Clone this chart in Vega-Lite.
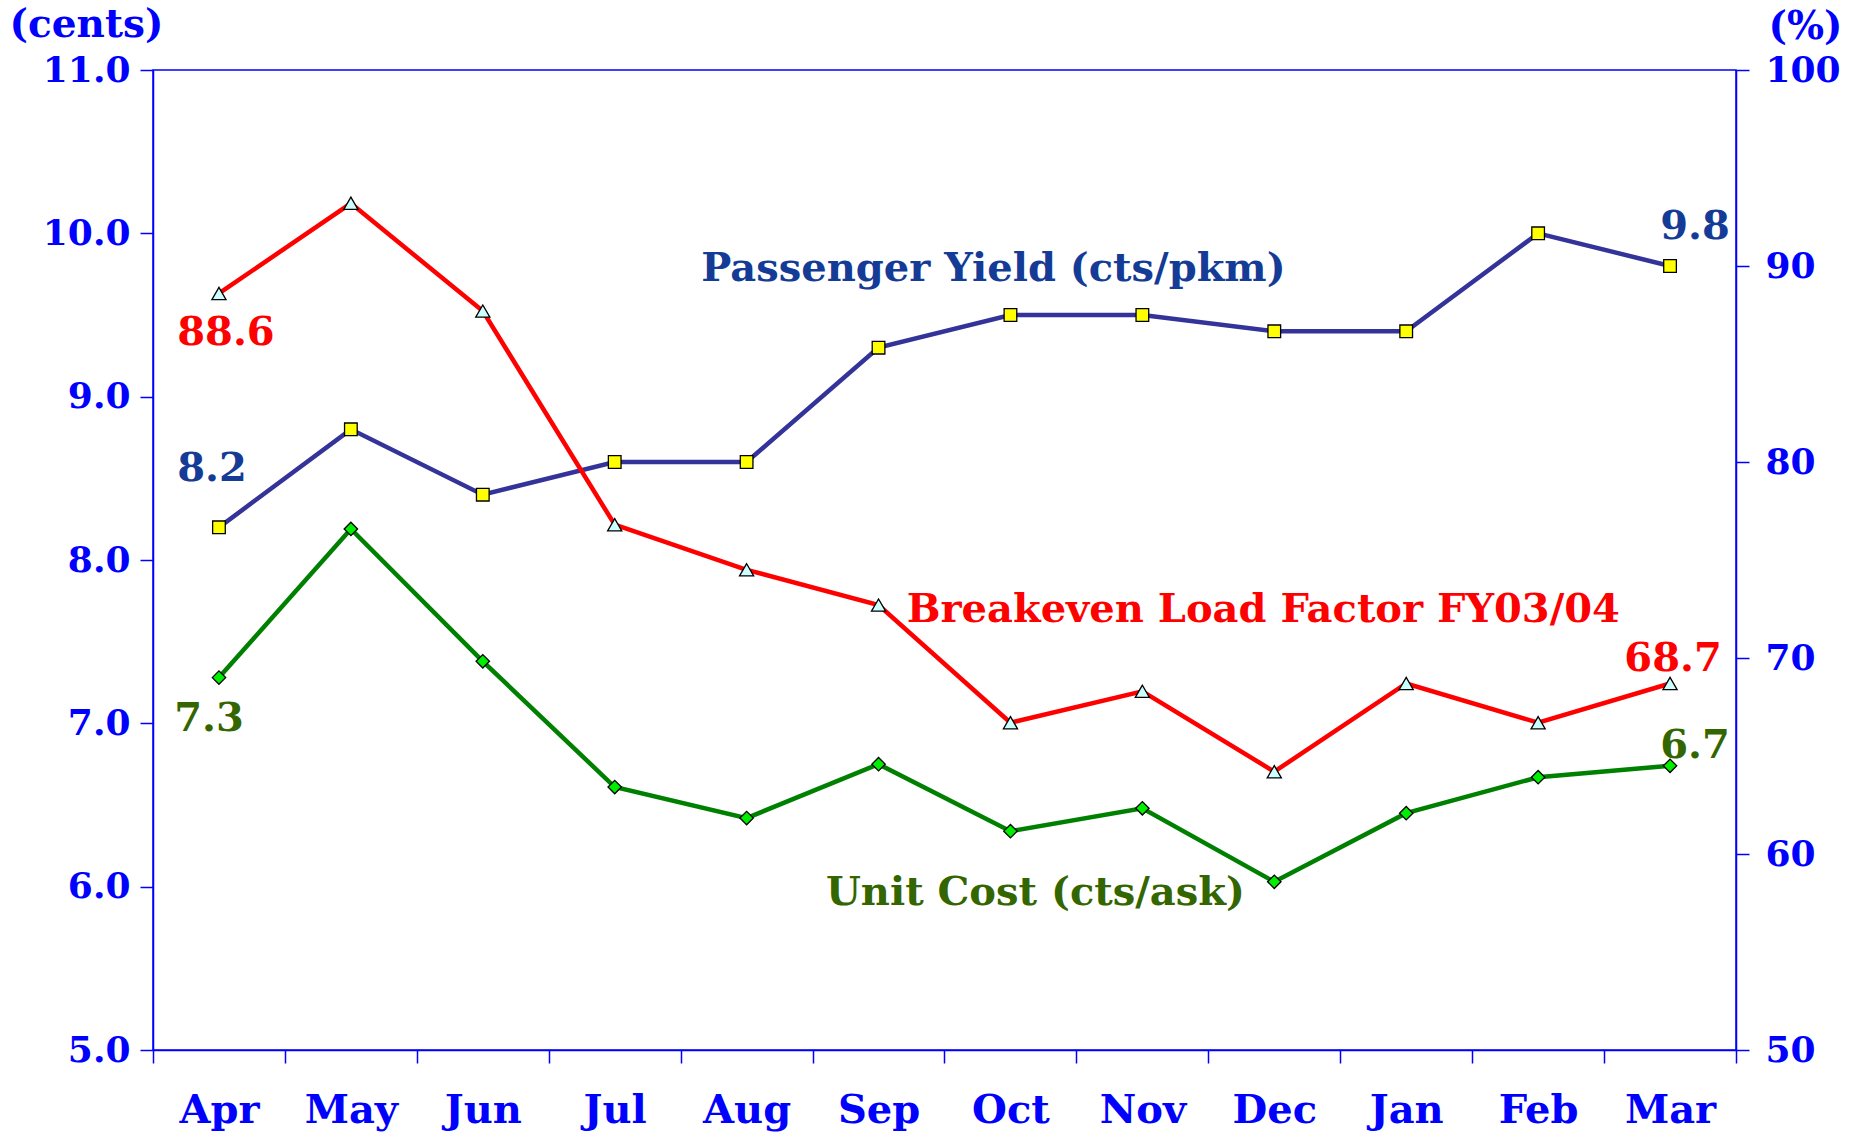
{
  "$schema": "https://vega.github.io/schema/vega-lite/v6.json",
  "width": 1583,
  "height": 980,
  "autosize": {"type": "none"},
  "padding": {"left": 153, "top": 70, "right": 124, "bottom": 89},
  "background": "white",
  "config": {
    "view": {"stroke": "#0000ff", "strokeWidth": 1.5},
    "font": "DejaVu Serif",
    "axis": {
      "domainColor": "#0000ff", "tickColor": "#0000ff", "labelColor": "#0000ff", "titleColor": "#0000ff",
      "labelFont": "DejaVu Serif", "labelFontWeight": "bold", "labelFontSize": 36,
      "titleFont": "DejaVu Serif", "titleFontWeight": "bold", "titleFontSize": 39,
      "grid": false, "tickSize": 13, "domainWidth": 1.5, "tickWidth": 1.5
    },
    "text": {"font": "DejaVu Serif", "fontWeight": "bold"}
  },
  "data": {"values": [
    {"month": "Apr", "yield": 8.2, "cost": 7.28, "blf": 88.6},
    {"month": "May", "yield": 8.8, "cost": 8.19, "blf": 93.2},
    {"month": "Jun", "yield": 8.4, "cost": 7.38, "blf": 87.7},
    {"month": "Jul", "yield": 8.6, "cost": 6.61, "blf": 76.8},
    {"month": "Aug", "yield": 8.6, "cost": 6.42, "blf": 74.5},
    {"month": "Sep", "yield": 9.3, "cost": 6.75, "blf": 72.7},
    {"month": "Oct", "yield": 9.5, "cost": 6.34, "blf": 66.7},
    {"month": "Nov", "yield": 9.5, "cost": 6.48, "blf": 68.3},
    {"month": "Dec", "yield": 9.4, "cost": 6.03, "blf": 64.2},
    {"month": "Jan", "yield": 9.4, "cost": 6.45, "blf": 68.7},
    {"month": "Feb", "yield": 10.0, "cost": 6.67, "blf": 66.7},
    {"month": "Mar", "yield": 9.8, "cost": 6.74, "blf": 68.7}
  ]},
  "encoding": {
    "x": {
      "field": "month", "type": "ordinal",
      "sort": ["Apr","May","Jun","Jul","Aug","Sep","Oct","Nov","Dec","Jan","Feb","Mar"],
      "scale": {"type": "band", "paddingInner": 0, "paddingOuter": 0},
      "axis": {"title": null, "tickBand": "extent", "labelAngle": 0, "labelPadding": 27, "labelFontSize": 40}
    }
  },
  "layer": [
    {
      "layer": [
        {
          "mark": {"type": "line", "color": "#333399", "strokeWidth": 4.5},
          "encoding": {"y": {"field": "yield", "type": "quantitative", "scale": {"domain": [5, 11], "nice": false, "zero": false},
            "axis": {"orient": "left", "title": "(cents)", "titleAngle": 0, "titleX": -67, "titleY": -46, "titleAlign": "center", "titleBaseline": "middle", "values": [5,6,7,8,9,10,11], "format": ".1f", "labelPadding": 10}}}
        },
        {
          "mark": {"type": "line", "color": "#008000", "strokeWidth": 4.5},
          "encoding": {"y": {"field": "cost", "type": "quantitative", "scale": {"domain": [5, 11], "nice": false, "zero": false},
            "axis": {"orient": "left", "title": "(cents)", "titleAngle": 0, "titleX": -67, "titleY": -46, "titleAlign": "center", "titleBaseline": "middle", "values": [5,6,7,8,9,10,11], "format": ".1f", "labelPadding": 10}}}
        },
        {
          "mark": {"type": "point", "shape": "square", "filled": true, "fill": "#ffff00", "stroke": "#000000", "strokeWidth": 1.3, "size": 160, "opacity": 1},
          "encoding": {"y": {"field": "yield", "type": "quantitative"}}
        },
        {
          "mark": {"type": "point", "shape": "diamond", "filled": true, "fill": "#00ee00", "stroke": "#000000", "strokeWidth": 1.3, "size": 180, "opacity": 1},
          "encoding": {"y": {"field": "cost", "type": "quantitative"}}
        },
        {
          "transform": [{"filter": "datum.month === 'Apr'"}],
          "mark": {"type": "text", "fontSize": 40, "color": "#143c96", "dx": -7, "dy": -58, "baseline": "middle"},
          "encoding": {"y": {"field": "yield", "type": "quantitative"}, "text": {"field": "yield", "format": ".1f"}}
        },
        {
          "transform": [{"filter": "datum.month === 'Mar'"}],
          "mark": {"type": "text", "fontSize": 40, "color": "#143c96", "dx": 25, "dy": -39, "baseline": "middle"},
          "encoding": {"y": {"field": "yield", "type": "quantitative"}, "text": {"field": "yield", "format": ".1f"}}
        },
        {
          "transform": [{"filter": "datum.month === 'Apr'"}],
          "mark": {"type": "text", "fontSize": 40, "color": "#336600", "dx": -10, "dy": 41, "baseline": "middle"},
          "encoding": {"y": {"field": "cost", "type": "quantitative"}, "text": {"field": "cost", "format": ".1f"}}
        },
        {
          "transform": [{"filter": "datum.month === 'Mar'"}],
          "mark": {"type": "text", "fontSize": 40, "color": "#336600", "dx": 25, "dy": -20, "baseline": "middle"},
          "encoding": {"y": {"field": "cost", "type": "quantitative"}, "text": {"field": "cost", "format": ".1f"}}
        },
        {
          "data": {"values": [{"label": "Passenger Yield (cts/pkm)"}]},
          "mark": {"type": "text", "fontSize": 40, "color": "#143c96", "dx": -17, "baseline": "middle"},
          "encoding": {"x": {"datum": "Oct"}, "y": {"datum": 9.78}, "text": {"field": "label"}}
        },
        {
          "data": {"values": [{"label": "Unit Cost (cts/ask)"}]},
          "mark": {"type": "text", "fontSize": 40, "color": "#336600", "dx": 25, "baseline": "middle"},
          "encoding": {"x": {"datum": "Oct"}, "y": {"datum": 5.96}, "text": {"field": "label"}}
        }
      ]
    },
    {
      "layer": [
        {
          "mark": {"type": "line", "color": "#ff0000", "strokeWidth": 4.5},
          "encoding": {"y": {"field": "blf", "type": "quantitative", "scale": {"domain": [50, 100], "nice": false, "zero": false},
            "axis": {"orient": "right", "title": "(%)", "titleAngle": 0, "titleX": 69, "titleY": -44, "titleAlign": "center", "titleBaseline": "middle", "values": [50,60,70,80,90,100], "labelPadding": 16}}}
        },
        {
          "mark": {"type": "point", "shape": "triangle-up", "filled": true, "fill": "#ccffff", "stroke": "#000000", "strokeWidth": 1.3, "size": 200, "opacity": 1},
          "encoding": {"y": {"field": "blf", "type": "quantitative"}}
        },
        {
          "transform": [{"filter": "datum.month === 'Apr'"}],
          "mark": {"type": "text", "fontSize": 40, "color": "#ff0000", "dx": 7, "dy": 40, "baseline": "middle"},
          "encoding": {"y": {"field": "blf", "type": "quantitative"}, "text": {"field": "blf", "format": ".1f"}}
        },
        {
          "transform": [{"filter": "datum.month === 'Mar'"}],
          "mark": {"type": "text", "fontSize": 40, "color": "#ff0000", "dx": 3, "dy": -24, "baseline": "middle"},
          "encoding": {"y": {"field": "blf", "type": "quantitative"}, "text": {"field": "blf", "format": ".1f"}}
        },
        {
          "data": {"values": [{"label": "Breakeven Load Factor FY03/04"}]},
          "mark": {"type": "text", "fontSize": 40, "color": "#ff0000", "dx": -11, "baseline": "middle"},
          "encoding": {"x": {"datum": "Dec"}, "y": {"datum": 72.45}, "text": {"field": "label"}}
        }
      ]
    }
  ],
  "resolve": {"scale": {"y": "independent"}}
}
